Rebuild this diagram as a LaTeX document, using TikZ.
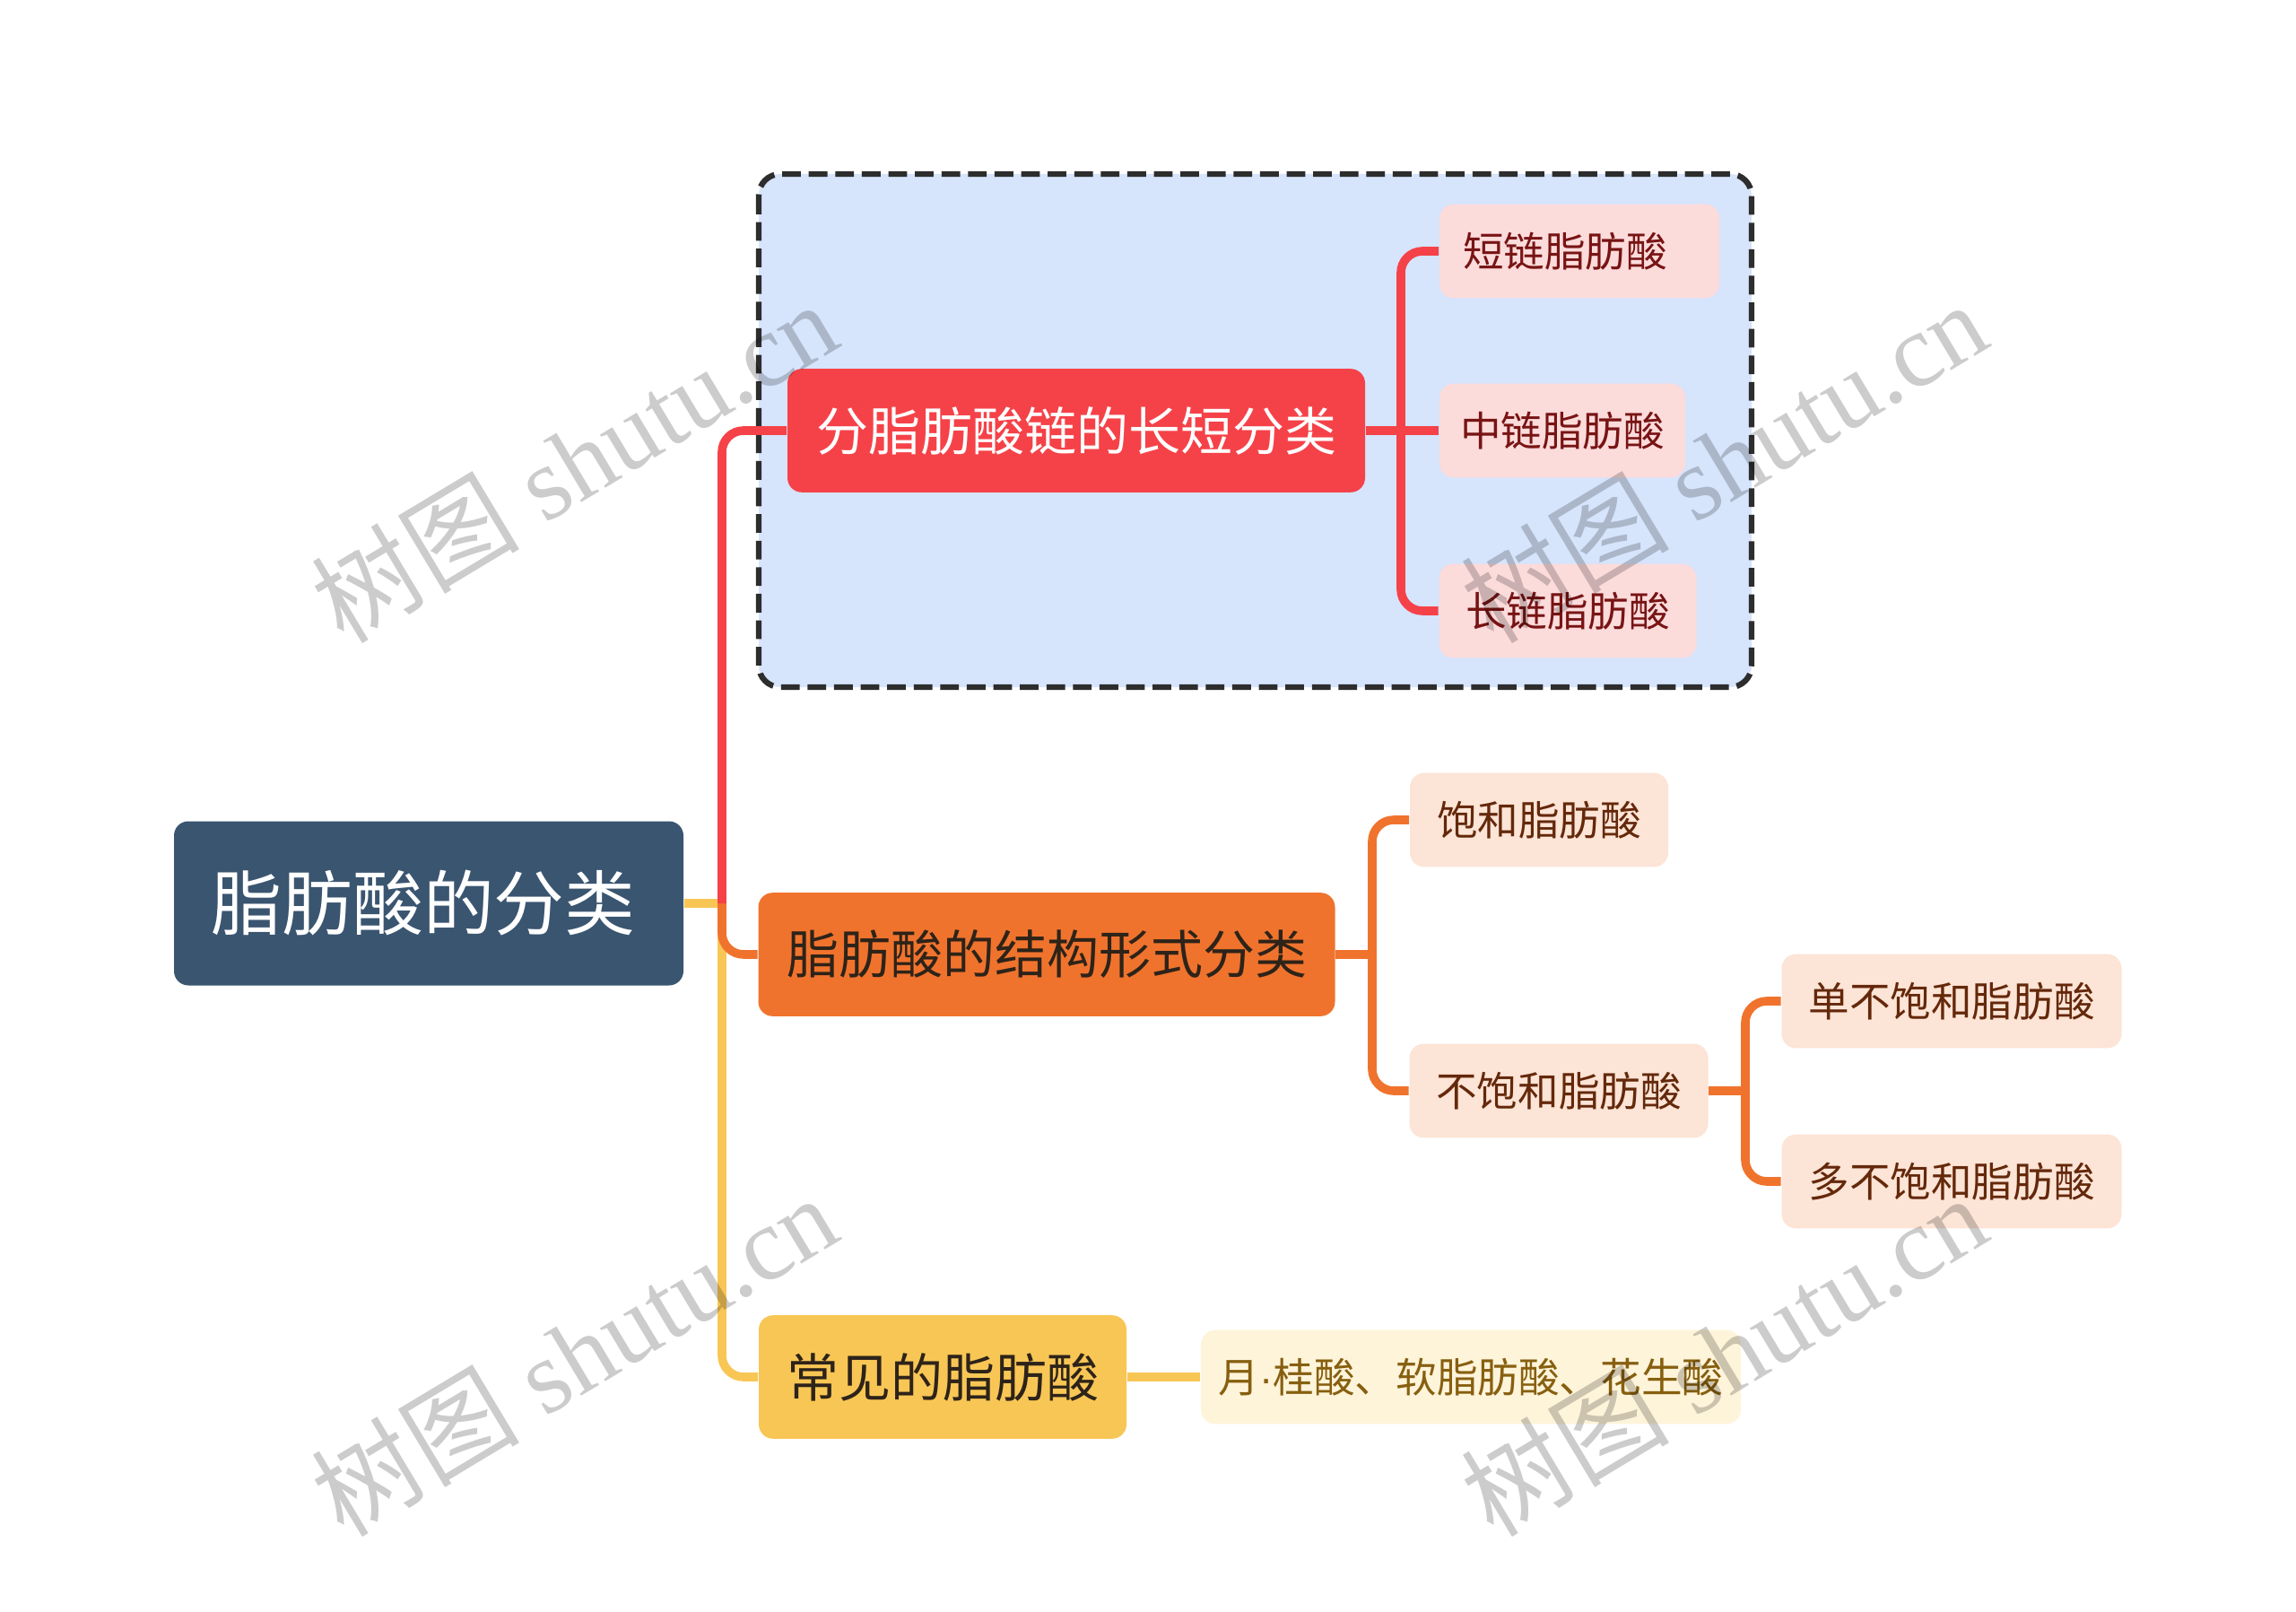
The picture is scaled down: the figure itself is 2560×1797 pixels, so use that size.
\documentclass[tikz,border=0pt]{standalone}
\usepackage{fontspec}
\setmainfont{Noto Sans CJK SC}
\newfontfamily\cjk{Noto Sans CJK SC}
\newfontfamily\wmfont{Liberation Serif}
\newfontfamily\latinsans{Liberation Sans}
\definecolor{rootc}{RGB}{58,85,112}
\definecolor{redc}{RGB}{245,66,72}
\definecolor{orangec}{RGB}{240,115,45}
\definecolor{yellowc}{RGB}{248,198,85}
\definecolor{bluebg}{RGB}{214,228,252}
\definecolor{dashc}{RGB}{45,45,45}
\definecolor{redleaf}{RGB}{252,219,219}
\definecolor{redleaft}{RGB}{120,20,20}
\definecolor{orleaf}{RGB}{252,228,214}
\definecolor{orleaft}{RGB}{100,40,10}
\definecolor{yeleaf}{RGB}{254,244,218}
\definecolor{yeleaft}{RGB}{135,95,15}
\definecolor{darktxt}{RGB}{45,35,25}
\begin{document}
\begin{tikzpicture}[x=0.25pt,y=-0.25pt,
  box/.style={rounded corners=4pt, inner sep=0pt, align=center},
  big/.style={box, font=\fontsize{14.5}{16}\selectfont, minimum height=34.4pt},
  small/.style={box, font=\fontsize{11.4}{13}\selectfont, minimum height=26.2pt},
  rleaf/.style={small, fill=redleaf, text=redleaft},
  oleaf/.style={small, fill=orleaf, text=orleaft},
  yleaf/.style={small, fill=yeleaf, text=yeleaft},
  conn/.style={line width=2.4pt, rounded corners=6pt},
  wm/.style={text=black, text opacity=0.2, font=\wmfont\fontsize{29}{30}\selectfont, rotate=31, inner sep=0pt}
]
\useasboundingbox[fill=white] (0,0) rectangle (2560,1797);

% dashed group frame
\draw[fill=bluebg, draw=dashc, line width=1.6pt, dash pattern=on 5.2pt off 2.2pt, rounded corners=6pt]
  (846,194) rectangle (1953,766);

% nodes
\node[box, fill=rootc, text=white, font=\fontsize{19.7}{21}\selectfont, minimum width=142pt, minimum height=45.75pt] (root) at (478,1007) {脂肪酸的分类\hspace{3pt}};

\node[big, fill=redc, text=white, minimum width=161pt] (red) at (1200,480) {分脂肪酸链的长短分类};
\node[rleaf, minimum width=78pt, text width=65pt, align=left] (s1) at (1761,280) {短链脂肪酸};
\node[rleaf, minimum width=68.5pt] (s2) at (1742,480) {中链脂肪酸};
\node[rleaf, minimum width=71.75pt] (s3) at (1748,681) {长链脂肪酸};

\node[big, fill=orangec, text=darktxt, minimum width=160.75pt] (orange) at (1167,1064) {脂肪酸的结构形式分类};
\node[oleaf, minimum width=72pt] (sat) at (1716,914) {饱和脂肪酸};
\node[oleaf, minimum width=83.25pt] (unsat) at (1738,1216) {不饱和脂肪酸};
\node[oleaf, minimum width=94.75pt] (mono) at (2176,1116) {单不饱和脂肪酸};
\node[oleaf, minimum width=94.75pt] (poly) at (2176,1317) {多不饱和脂肪酸};

\node[big, fill=yellowc, text=darktxt, minimum width=102.5pt] (yellow) at (1051,1535) {常见的脂肪酸};
\node[yleaf, minimum width=150.5pt] (leaf) at (1640,1535) {月{\latinsans ·}桂酸、软脂肪酸、花生酸};

% connector junctions
\coordinate (t) at (805,1007);
\coordinate (rb) at (1562,480);
\coordinate (ob) at (1530,1064);
\coordinate (ub) at (1946,1216);

% connectors
\draw[conn, draw=yellowc] (root.east) -- (t);
\draw[conn, draw=yellowc] (t) |- (yellow.west);
\draw[conn, draw=orangec] (t) |- (orange.west);
\draw[conn, draw=redc] (t) |- (red.west);

\draw[conn, draw=redc] (red.east) -- (rb);
\draw[conn, draw=redc] (rb) |- (s1.west);
\draw[conn, draw=redc] (rb) -- (s2.west);
\draw[conn, draw=redc] (rb) |- (s3.west);

\draw[conn, draw=orangec] (orange.east) -- (ob);
\draw[conn, draw=orangec] (ob) |- (sat.west);
\draw[conn, draw=orangec] (ob) |- (unsat.west);
\draw[conn, draw=orangec] (unsat.east) -- (ub);
\draw[conn, draw=orangec] (ub) |- (mono.west);
\draw[conn, draw=orangec] (ub) |- (poly.west);

\draw[conn, draw=yellowc] (yellow.east) -- (leaf.west);

% watermarks
\node[wm] (wm1) at (640,514) {{\cjk 树图} shutu.cn};
\node[wm] (wm2) at (1922,514) {{\cjk 树图} shutu.cn};
\node[wm] (wm3) at (640,1510) {{\cjk 树图} shutu.cn};
\node[wm] (wm4) at (1922,1510) {{\cjk 树图} shutu.cn};
\end{tikzpicture}
\end{document}
